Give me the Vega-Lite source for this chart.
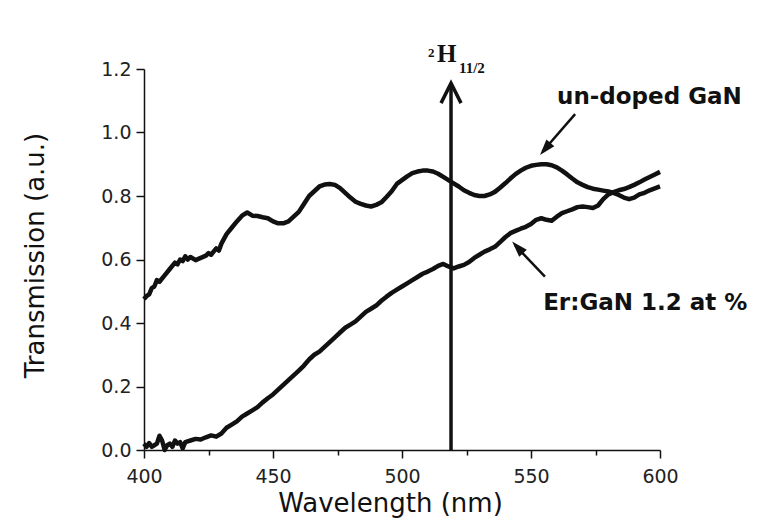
{
  "$schema": "https://vega.github.io/schema/vega-lite/v6.json",
  "width": 516,
  "height": 381,
  "autosize": "none",
  "padding": {"left": 144, "top": 69, "right": 98, "bottom": 78},
  "background": "white",
  "config": {
    "view": {"stroke": null},
    "axis": {
      "grid": false,
      "domainColor": "#111",
      "domainWidth": 1.5,
      "tickColor": "#111",
      "tickWidth": 1.5,
      "labelColor": "#222",
      "labelFont": "DejaVu Sans",
      "labelFontSize": 19,
      "titleFont": "DejaVu Sans",
      "titleFontSize": 26,
      "titleFontWeight": "normal",
      "titleColor": "#111"
    }
  },
  "datasets": {
    "curves": [
      {"series": "un-doped GaN", "nm": 400, "T": 0.475},
      {"series": "un-doped GaN", "nm": 401, "T": 0.485},
      {"series": "un-doped GaN", "nm": 402, "T": 0.49},
      {"series": "un-doped GaN", "nm": 403, "T": 0.51},
      {"series": "un-doped GaN", "nm": 404, "T": 0.515},
      {"series": "un-doped GaN", "nm": 405, "T": 0.535},
      {"series": "un-doped GaN", "nm": 406, "T": 0.53},
      {"series": "un-doped GaN", "nm": 408, "T": 0.55},
      {"series": "un-doped GaN", "nm": 410, "T": 0.57},
      {"series": "un-doped GaN", "nm": 412, "T": 0.59},
      {"series": "un-doped GaN", "nm": 413, "T": 0.585},
      {"series": "un-doped GaN", "nm": 414, "T": 0.6},
      {"series": "un-doped GaN", "nm": 415, "T": 0.595},
      {"series": "un-doped GaN", "nm": 416, "T": 0.61},
      {"series": "un-doped GaN", "nm": 417, "T": 0.6},
      {"series": "un-doped GaN", "nm": 418, "T": 0.608},
      {"series": "un-doped GaN", "nm": 420, "T": 0.598},
      {"series": "un-doped GaN", "nm": 422, "T": 0.605},
      {"series": "un-doped GaN", "nm": 424, "T": 0.612},
      {"series": "un-doped GaN", "nm": 425, "T": 0.62},
      {"series": "un-doped GaN", "nm": 426, "T": 0.615},
      {"series": "un-doped GaN", "nm": 428, "T": 0.635},
      {"series": "un-doped GaN", "nm": 429, "T": 0.628},
      {"series": "un-doped GaN", "nm": 430, "T": 0.65},
      {"series": "un-doped GaN", "nm": 432, "T": 0.68},
      {"series": "un-doped GaN", "nm": 434, "T": 0.7},
      {"series": "un-doped GaN", "nm": 436, "T": 0.72},
      {"series": "un-doped GaN", "nm": 438, "T": 0.738},
      {"series": "un-doped GaN", "nm": 440, "T": 0.748},
      {"series": "un-doped GaN", "nm": 442, "T": 0.738},
      {"series": "un-doped GaN", "nm": 444, "T": 0.737},
      {"series": "un-doped GaN", "nm": 446, "T": 0.733},
      {"series": "un-doped GaN", "nm": 448, "T": 0.73},
      {"series": "un-doped GaN", "nm": 450, "T": 0.72},
      {"series": "un-doped GaN", "nm": 452, "T": 0.714},
      {"series": "un-doped GaN", "nm": 454, "T": 0.714},
      {"series": "un-doped GaN", "nm": 456, "T": 0.72},
      {"series": "un-doped GaN", "nm": 458, "T": 0.735},
      {"series": "un-doped GaN", "nm": 460, "T": 0.75},
      {"series": "un-doped GaN", "nm": 462, "T": 0.775},
      {"series": "un-doped GaN", "nm": 464, "T": 0.8},
      {"series": "un-doped GaN", "nm": 466, "T": 0.815},
      {"series": "un-doped GaN", "nm": 468, "T": 0.83},
      {"series": "un-doped GaN", "nm": 470, "T": 0.836},
      {"series": "un-doped GaN", "nm": 472, "T": 0.838},
      {"series": "un-doped GaN", "nm": 474, "T": 0.835},
      {"series": "un-doped GaN", "nm": 476, "T": 0.825},
      {"series": "un-doped GaN", "nm": 478, "T": 0.81},
      {"series": "un-doped GaN", "nm": 480, "T": 0.795},
      {"series": "un-doped GaN", "nm": 482, "T": 0.782},
      {"series": "un-doped GaN", "nm": 484, "T": 0.775},
      {"series": "un-doped GaN", "nm": 486, "T": 0.77},
      {"series": "un-doped GaN", "nm": 488, "T": 0.767},
      {"series": "un-doped GaN", "nm": 490, "T": 0.772},
      {"series": "un-doped GaN", "nm": 492, "T": 0.78},
      {"series": "un-doped GaN", "nm": 494, "T": 0.797},
      {"series": "un-doped GaN", "nm": 496, "T": 0.815},
      {"series": "un-doped GaN", "nm": 498, "T": 0.838},
      {"series": "un-doped GaN", "nm": 500, "T": 0.85},
      {"series": "un-doped GaN", "nm": 502, "T": 0.862},
      {"series": "un-doped GaN", "nm": 504, "T": 0.872},
      {"series": "un-doped GaN", "nm": 506, "T": 0.877},
      {"series": "un-doped GaN", "nm": 508, "T": 0.88},
      {"series": "un-doped GaN", "nm": 510, "T": 0.88},
      {"series": "un-doped GaN", "nm": 512, "T": 0.877},
      {"series": "un-doped GaN", "nm": 514, "T": 0.87},
      {"series": "un-doped GaN", "nm": 516, "T": 0.86},
      {"series": "un-doped GaN", "nm": 518, "T": 0.85},
      {"series": "un-doped GaN", "nm": 520, "T": 0.84},
      {"series": "un-doped GaN", "nm": 522, "T": 0.83},
      {"series": "un-doped GaN", "nm": 524, "T": 0.818},
      {"series": "un-doped GaN", "nm": 526, "T": 0.81},
      {"series": "un-doped GaN", "nm": 528, "T": 0.803},
      {"series": "un-doped GaN", "nm": 530, "T": 0.8},
      {"series": "un-doped GaN", "nm": 532, "T": 0.8},
      {"series": "un-doped GaN", "nm": 534, "T": 0.805},
      {"series": "un-doped GaN", "nm": 536, "T": 0.813},
      {"series": "un-doped GaN", "nm": 538, "T": 0.826},
      {"series": "un-doped GaN", "nm": 540, "T": 0.84},
      {"series": "un-doped GaN", "nm": 542, "T": 0.855},
      {"series": "un-doped GaN", "nm": 544, "T": 0.869},
      {"series": "un-doped GaN", "nm": 546, "T": 0.88},
      {"series": "un-doped GaN", "nm": 548, "T": 0.889},
      {"series": "un-doped GaN", "nm": 550, "T": 0.895},
      {"series": "un-doped GaN", "nm": 552, "T": 0.898},
      {"series": "un-doped GaN", "nm": 554, "T": 0.9},
      {"series": "un-doped GaN", "nm": 556, "T": 0.9},
      {"series": "un-doped GaN", "nm": 558, "T": 0.897},
      {"series": "un-doped GaN", "nm": 560, "T": 0.89},
      {"series": "un-doped GaN", "nm": 562, "T": 0.88},
      {"series": "un-doped GaN", "nm": 564, "T": 0.868},
      {"series": "un-doped GaN", "nm": 566, "T": 0.855},
      {"series": "un-doped GaN", "nm": 568, "T": 0.843},
      {"series": "un-doped GaN", "nm": 570, "T": 0.835},
      {"series": "un-doped GaN", "nm": 572, "T": 0.828},
      {"series": "un-doped GaN", "nm": 574, "T": 0.823},
      {"series": "un-doped GaN", "nm": 576, "T": 0.82},
      {"series": "un-doped GaN", "nm": 578, "T": 0.817},
      {"series": "un-doped GaN", "nm": 580, "T": 0.814},
      {"series": "un-doped GaN", "nm": 582, "T": 0.81},
      {"series": "un-doped GaN", "nm": 584, "T": 0.803},
      {"series": "un-doped GaN", "nm": 586, "T": 0.795},
      {"series": "un-doped GaN", "nm": 588, "T": 0.79},
      {"series": "un-doped GaN", "nm": 590, "T": 0.795},
      {"series": "un-doped GaN", "nm": 592, "T": 0.805},
      {"series": "un-doped GaN", "nm": 594, "T": 0.81},
      {"series": "un-doped GaN", "nm": 596, "T": 0.818},
      {"series": "un-doped GaN", "nm": 598, "T": 0.824},
      {"series": "un-doped GaN", "nm": 600, "T": 0.83},
      {"series": "Er:GaN 1.2 at %", "nm": 400, "T": 0.02},
      {"series": "Er:GaN 1.2 at %", "nm": 401, "T": 0.01},
      {"series": "Er:GaN 1.2 at %", "nm": 402, "T": 0.022},
      {"series": "Er:GaN 1.2 at %", "nm": 403, "T": 0.01},
      {"series": "Er:GaN 1.2 at %", "nm": 404, "T": 0.015},
      {"series": "Er:GaN 1.2 at %", "nm": 405, "T": 0.02},
      {"series": "Er:GaN 1.2 at %", "nm": 406, "T": 0.045},
      {"series": "Er:GaN 1.2 at %", "nm": 407, "T": 0.03},
      {"series": "Er:GaN 1.2 at %", "nm": 408, "T": 0.0},
      {"series": "Er:GaN 1.2 at %", "nm": 409, "T": 0.015},
      {"series": "Er:GaN 1.2 at %", "nm": 410, "T": 0.02},
      {"series": "Er:GaN 1.2 at %", "nm": 411, "T": 0.01},
      {"series": "Er:GaN 1.2 at %", "nm": 412, "T": 0.03},
      {"series": "Er:GaN 1.2 at %", "nm": 413, "T": 0.02},
      {"series": "Er:GaN 1.2 at %", "nm": 414, "T": 0.025},
      {"series": "Er:GaN 1.2 at %", "nm": 415, "T": 0.005},
      {"series": "Er:GaN 1.2 at %", "nm": 416, "T": 0.025},
      {"series": "Er:GaN 1.2 at %", "nm": 418, "T": 0.03},
      {"series": "Er:GaN 1.2 at %", "nm": 420, "T": 0.035},
      {"series": "Er:GaN 1.2 at %", "nm": 422, "T": 0.033},
      {"series": "Er:GaN 1.2 at %", "nm": 424, "T": 0.04},
      {"series": "Er:GaN 1.2 at %", "nm": 426, "T": 0.046},
      {"series": "Er:GaN 1.2 at %", "nm": 428, "T": 0.042},
      {"series": "Er:GaN 1.2 at %", "nm": 430, "T": 0.052},
      {"series": "Er:GaN 1.2 at %", "nm": 432, "T": 0.07},
      {"series": "Er:GaN 1.2 at %", "nm": 434, "T": 0.08},
      {"series": "Er:GaN 1.2 at %", "nm": 436, "T": 0.09},
      {"series": "Er:GaN 1.2 at %", "nm": 438, "T": 0.105},
      {"series": "Er:GaN 1.2 at %", "nm": 440, "T": 0.115},
      {"series": "Er:GaN 1.2 at %", "nm": 442, "T": 0.125},
      {"series": "Er:GaN 1.2 at %", "nm": 444, "T": 0.135},
      {"series": "Er:GaN 1.2 at %", "nm": 446, "T": 0.15},
      {"series": "Er:GaN 1.2 at %", "nm": 448, "T": 0.163},
      {"series": "Er:GaN 1.2 at %", "nm": 450, "T": 0.175},
      {"series": "Er:GaN 1.2 at %", "nm": 452, "T": 0.19},
      {"series": "Er:GaN 1.2 at %", "nm": 454, "T": 0.205},
      {"series": "Er:GaN 1.2 at %", "nm": 456, "T": 0.22},
      {"series": "Er:GaN 1.2 at %", "nm": 458, "T": 0.235},
      {"series": "Er:GaN 1.2 at %", "nm": 460, "T": 0.25},
      {"series": "Er:GaN 1.2 at %", "nm": 462, "T": 0.266},
      {"series": "Er:GaN 1.2 at %", "nm": 464, "T": 0.285},
      {"series": "Er:GaN 1.2 at %", "nm": 466, "T": 0.3},
      {"series": "Er:GaN 1.2 at %", "nm": 468, "T": 0.31},
      {"series": "Er:GaN 1.2 at %", "nm": 470, "T": 0.325},
      {"series": "Er:GaN 1.2 at %", "nm": 472, "T": 0.34},
      {"series": "Er:GaN 1.2 at %", "nm": 474, "T": 0.355},
      {"series": "Er:GaN 1.2 at %", "nm": 476, "T": 0.37},
      {"series": "Er:GaN 1.2 at %", "nm": 478, "T": 0.385},
      {"series": "Er:GaN 1.2 at %", "nm": 480, "T": 0.395},
      {"series": "Er:GaN 1.2 at %", "nm": 482, "T": 0.405},
      {"series": "Er:GaN 1.2 at %", "nm": 484, "T": 0.42},
      {"series": "Er:GaN 1.2 at %", "nm": 486, "T": 0.435},
      {"series": "Er:GaN 1.2 at %", "nm": 488, "T": 0.445},
      {"series": "Er:GaN 1.2 at %", "nm": 490, "T": 0.455},
      {"series": "Er:GaN 1.2 at %", "nm": 492, "T": 0.47},
      {"series": "Er:GaN 1.2 at %", "nm": 494, "T": 0.483},
      {"series": "Er:GaN 1.2 at %", "nm": 496, "T": 0.495},
      {"series": "Er:GaN 1.2 at %", "nm": 498, "T": 0.505},
      {"series": "Er:GaN 1.2 at %", "nm": 500, "T": 0.515},
      {"series": "Er:GaN 1.2 at %", "nm": 502, "T": 0.525},
      {"series": "Er:GaN 1.2 at %", "nm": 504, "T": 0.535},
      {"series": "Er:GaN 1.2 at %", "nm": 506, "T": 0.545},
      {"series": "Er:GaN 1.2 at %", "nm": 508, "T": 0.555},
      {"series": "Er:GaN 1.2 at %", "nm": 510, "T": 0.562},
      {"series": "Er:GaN 1.2 at %", "nm": 512, "T": 0.57},
      {"series": "Er:GaN 1.2 at %", "nm": 514, "T": 0.58},
      {"series": "Er:GaN 1.2 at %", "nm": 516, "T": 0.586},
      {"series": "Er:GaN 1.2 at %", "nm": 518, "T": 0.578},
      {"series": "Er:GaN 1.2 at %", "nm": 520, "T": 0.572},
      {"series": "Er:GaN 1.2 at %", "nm": 522, "T": 0.578},
      {"series": "Er:GaN 1.2 at %", "nm": 524, "T": 0.583},
      {"series": "Er:GaN 1.2 at %", "nm": 526, "T": 0.592},
      {"series": "Er:GaN 1.2 at %", "nm": 528, "T": 0.605},
      {"series": "Er:GaN 1.2 at %", "nm": 530, "T": 0.615},
      {"series": "Er:GaN 1.2 at %", "nm": 532, "T": 0.625},
      {"series": "Er:GaN 1.2 at %", "nm": 534, "T": 0.632},
      {"series": "Er:GaN 1.2 at %", "nm": 536, "T": 0.64},
      {"series": "Er:GaN 1.2 at %", "nm": 538, "T": 0.655},
      {"series": "Er:GaN 1.2 at %", "nm": 540, "T": 0.67},
      {"series": "Er:GaN 1.2 at %", "nm": 542, "T": 0.683},
      {"series": "Er:GaN 1.2 at %", "nm": 544, "T": 0.69},
      {"series": "Er:GaN 1.2 at %", "nm": 546, "T": 0.697},
      {"series": "Er:GaN 1.2 at %", "nm": 548, "T": 0.703},
      {"series": "Er:GaN 1.2 at %", "nm": 550, "T": 0.712},
      {"series": "Er:GaN 1.2 at %", "nm": 552, "T": 0.725},
      {"series": "Er:GaN 1.2 at %", "nm": 554, "T": 0.73},
      {"series": "Er:GaN 1.2 at %", "nm": 556, "T": 0.725},
      {"series": "Er:GaN 1.2 at %", "nm": 558, "T": 0.722},
      {"series": "Er:GaN 1.2 at %", "nm": 560, "T": 0.735},
      {"series": "Er:GaN 1.2 at %", "nm": 562, "T": 0.746},
      {"series": "Er:GaN 1.2 at %", "nm": 564, "T": 0.752},
      {"series": "Er:GaN 1.2 at %", "nm": 566, "T": 0.758},
      {"series": "Er:GaN 1.2 at %", "nm": 568, "T": 0.765},
      {"series": "Er:GaN 1.2 at %", "nm": 570, "T": 0.767},
      {"series": "Er:GaN 1.2 at %", "nm": 572, "T": 0.765},
      {"series": "Er:GaN 1.2 at %", "nm": 574, "T": 0.762},
      {"series": "Er:GaN 1.2 at %", "nm": 576, "T": 0.77},
      {"series": "Er:GaN 1.2 at %", "nm": 578, "T": 0.79},
      {"series": "Er:GaN 1.2 at %", "nm": 580, "T": 0.805},
      {"series": "Er:GaN 1.2 at %", "nm": 582, "T": 0.812},
      {"series": "Er:GaN 1.2 at %", "nm": 584, "T": 0.818},
      {"series": "Er:GaN 1.2 at %", "nm": 586, "T": 0.822},
      {"series": "Er:GaN 1.2 at %", "nm": 588, "T": 0.828},
      {"series": "Er:GaN 1.2 at %", "nm": 590, "T": 0.835},
      {"series": "Er:GaN 1.2 at %", "nm": 592, "T": 0.843},
      {"series": "Er:GaN 1.2 at %", "nm": 594, "T": 0.852},
      {"series": "Er:GaN 1.2 at %", "nm": 596, "T": 0.86},
      {"series": "Er:GaN 1.2 at %", "nm": 598, "T": 0.868},
      {"series": "Er:GaN 1.2 at %", "nm": 600, "T": 0.876}
    ],
    "bigArrow": [{"nm": 519, "T": 0, "nm2": 519, "T2": 1.155}],
    "bigHead": [{"nm": 519, "T": 1.124}],
    "pointers": [
      {"nm": 567.1, "T": 1.058, "nm2": 554.5, "T2": 0.94},
      {"nm": 555.4, "T": 0.546, "nm2": 543.8, "T2": 0.645}
    ],
    "headUndoped": [{"nm": 555.5, "T": 0.948}],
    "headEr": [{"nm": 544.8, "T": 0.638}],
    "labels": [
      {"nm": 560.1, "T": 1.09, "text": "un-doped GaN"},
      {"nm": 554.7, "T": 0.441, "text": "Er:GaN 1.2 at %"}
    ],
    "supTwo": [{"nm": 510.1, "T": 1.238, "text": "2"}],
    "bigH": [{"nm": 513.6, "T": 1.223, "text": "H"}],
    "subText": [{"nm": 522.1, "T": 1.186, "text": "11/2"}]
  },
  "layer": [
    {
      "data": {"name": "curves"},
      "mark": {"type": "line", "stroke": "#111", "strokeWidth": 4.5, "strokeJoin": "round"},
      "encoding": {
        "x": {
          "field": "nm", "type": "quantitative",
          "scale": {"domain": [400, 600], "nice": false, "zero": false},
          "axis": {
            "title": "Wavelength (nm)",
            "values": [400, 425, 450, 475, 500, 525, 550, 575, 600],
            "labelExpr": "datum.value % 50 == 0 ? datum.label : ''",
            "tickSize": {"condition": {"test": "datum.value % 50 == 0", "value": 8}, "value": 5},
            "labelPadding": 9,
            "labelFlush": false,
            "titleX": 246,
            "titleY": 61,
            "titleAlign": "center",
            "titleBaseline": "alphabetic"
          }
        },
        "y": {
          "field": "T", "type": "quantitative",
          "scale": {"domain": [0, 1.2], "nice": false, "zero": false},
          "axis": {
            "title": "Transmission (a.u.)",
            "values": [0, 0.1, 0.2, 0.3, 0.4, 0.5, 0.6, 0.7, 0.8, 0.9, 1.0, 1.1, 1.2],
            "format": ".1f",
            "labelExpr": "round(datum.value * 10) % 2 == 0 ? datum.label : ''",
            "tickSize": {"condition": {"test": "round(datum.value * 10) % 2 == 0", "value": 8}, "value": 5},
            "labelPadding": 5,
            "labelFlush": false,
            "titleX": -109,
            "titleY": 186,
            "titleAngle": 270,
            "titleAlign": "center",
            "titleBaseline": "middle"
          }
        },
        "detail": {"field": "series", "type": "nominal"}
      }
    },
    {
      "data": {"name": "bigArrow"},
      "mark": {"type": "rule", "stroke": "#111", "strokeWidth": 3.5},
      "encoding": {
        "x": {"field": "nm", "type": "quantitative"},
        "y": {"field": "T", "type": "quantitative"},
        "x2": {"field": "nm2"},
        "y2": {"field": "T2"}
      }
    },
    {
      "data": {"name": "bigHead"},
      "mark": {"type": "point", "shape": "M-1,1L0,-1L1,1", "filled": false, "stroke": "#111", "strokeWidth": 3.5, "size": 400, "opacity": 1},
      "encoding": {
        "x": {"field": "nm", "type": "quantitative"},
        "y": {"field": "T", "type": "quantitative"}
      }
    },
    {
      "data": {"name": "pointers"},
      "mark": {"type": "rule", "stroke": "#111", "strokeWidth": 2.5},
      "encoding": {
        "x": {"field": "nm", "type": "quantitative"},
        "y": {"field": "T", "type": "quantitative"},
        "x2": {"field": "nm2"},
        "y2": {"field": "T2"}
      }
    },
    {
      "data": {"name": "headUndoped"},
      "mark": {"type": "point", "shape": "M0,-1L0.65,1L-0.65,1Z", "filled": true, "fill": "#111", "size": 256, "angle": 220.5, "opacity": 1},
      "encoding": {
        "x": {"field": "nm", "type": "quantitative"},
        "y": {"field": "T", "type": "quantitative"}
      }
    },
    {
      "data": {"name": "headEr"},
      "mark": {"type": "point", "shape": "M0,-1L0.65,1L-0.65,1Z", "filled": true, "fill": "#111", "size": 256, "angle": 316.9, "opacity": 1},
      "encoding": {
        "x": {"field": "nm", "type": "quantitative"},
        "y": {"field": "T", "type": "quantitative"}
      }
    },
    {
      "data": {"name": "labels"},
      "mark": {"type": "text", "font": "DejaVu Sans", "fontWeight": "bold", "fontSize": 23, "align": "left", "baseline": "alphabetic", "fill": "#111"},
      "encoding": {
        "x": {"field": "nm", "type": "quantitative"},
        "y": {"field": "T", "type": "quantitative"},
        "text": {"field": "text"}
      }
    },
    {
      "data": {"name": "supTwo"},
      "mark": {"type": "text", "font": "Liberation Serif", "fontWeight": "bold", "fontSize": 13, "align": "left", "baseline": "alphabetic", "fill": "#111"},
      "encoding": {
        "x": {"field": "nm", "type": "quantitative"},
        "y": {"field": "T", "type": "quantitative"},
        "text": {"field": "text"}
      }
    },
    {
      "data": {"name": "bigH"},
      "mark": {"type": "text", "font": "Liberation Serif", "fontWeight": "bold", "fontSize": 25, "align": "left", "baseline": "alphabetic", "fill": "#111"},
      "encoding": {
        "x": {"field": "nm", "type": "quantitative"},
        "y": {"field": "T", "type": "quantitative"},
        "text": {"field": "text"}
      }
    },
    {
      "data": {"name": "subText"},
      "mark": {"type": "text", "font": "Liberation Serif", "fontWeight": "bold", "fontSize": 15, "align": "left", "baseline": "alphabetic", "fill": "#111"},
      "encoding": {
        "x": {"field": "nm", "type": "quantitative"},
        "y": {"field": "T", "type": "quantitative"},
        "text": {"field": "text"}
      }
    }
  ]
}
